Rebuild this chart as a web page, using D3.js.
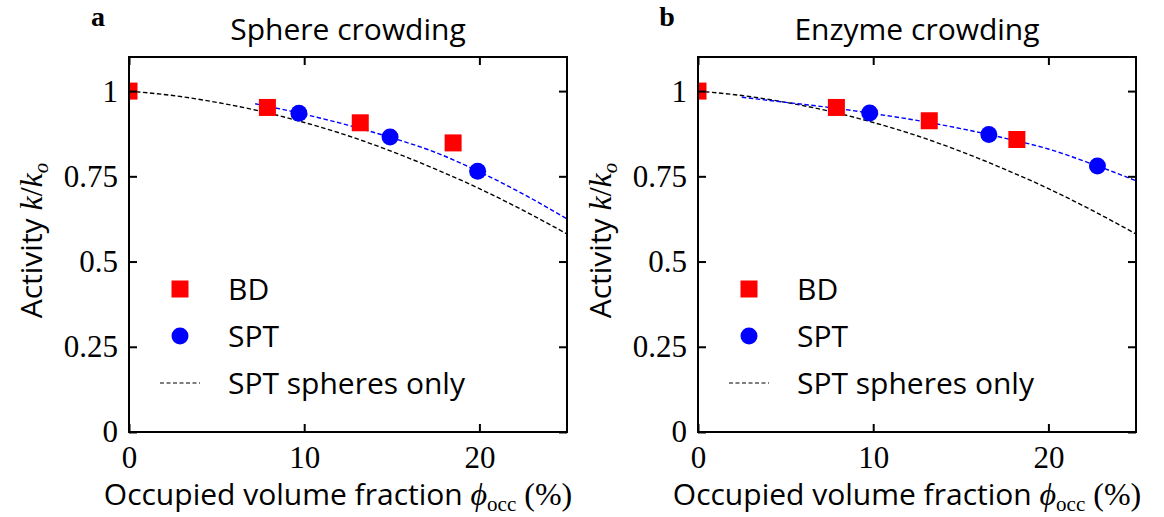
<!DOCTYPE html>
<html>
<head>
<meta charset="utf-8">
<script src="https://cdn.jsdelivr.net/npm/d3@7"></script>
<style>
  body { margin: 0; background: #fff; }
  .tick text { font-family: "Liberation Serif", serif; font-size: 31px; fill: #000; }
  .lbl { font-family: "Open Sans", sans-serif; fill: #000; }
  .math { font-family: "Liberation Serif", serif; font-style: italic; }
</style>
</head>
<body>
<div id="chart"></div>
<script>
// axis ticks
var xTicks = [0, 10, 20];
var yTicks = [0, 0.25, 0.5, 0.75, 1];
var yTickLabels = ["0", "0.25", "0.5", "0.75", "1"];

// panel a: sphere crowding
var bdA_x = [0, 7.9, 13.2, 18.5];
var bdA_y = [1.0, 0.952, 0.907, 0.848];
var sptA_x = [9.7, 14.9, 19.9];
var sptA_y = [0.935, 0.865, 0.765];
var fitA_x = [7.2, 10, 12.5, 15, 17.5, 20, 22.5, 25];
var fitA_y = [0.963, 0.932, 0.900, 0.863, 0.820, 0.763, 0.698, 0.625];

// panel b: enzyme crowding
var bdB_x = [0, 7.9, 13.2, 18.2];
var bdB_y = [1.0, 0.952, 0.913, 0.858];
var sptB_x = [9.8, 16.6, 22.8];
var sptB_y = [0.936, 0.873, 0.780];
var fitB_x = [2.5, 5, 7.5, 10, 12.5, 15, 17.5, 20, 22.5, 25];
var fitB_y = [0.982, 0.967, 0.952, 0.934, 0.914, 0.890, 0.862, 0.830, 0.786, 0.737];

// SPT spheres only (same curve in both panels)
var sph_x = [0, 2.5, 5, 7.5, 10, 12.5, 15, 17.5, 20, 22.5, 25];
var sph_y = [1.0, 0.987, 0.967, 0.941, 0.908, 0.869, 0.823, 0.771, 0.714, 0.650, 0.581];

var titles = ["Sphere crowding", "Enzyme crowding"];
var letters = ["a", "b"];
var legendNames = ["BD", "SPT", "SPT spheres only"];

var W = 1164, H = 517;
var svg = d3.select("#chart").append("svg").attr("width", W).attr("height", H);

function zip(xs, ys) { return xs.map(function(x, i) { return [x, ys[i]]; }); }

function drawPanel(idx, left, bd, spt, fit) {
    var width = 438, height = 375, top = 57;
    var g = svg.append("g").attr("transform", "translate(" + left + "," + top + ")");

    var x = d3.scaleLinear().domain([0, 25]).range([0, width]);
    var y = d3.scaleLinear().domain([0, 1.1]).range([height, 0]);

    var clipId = "clip" + idx;
    g.append("clipPath").attr("id", clipId)
        .append("rect").attr("width", width).attr("height", height);

    var plot = g.append("g").attr("clip-path", "url(#" + clipId + ")");

    var line = d3.line()
        .x(function(d) { return x(d[0]); })
        .y(function(d) { return y(d[1]); })
        .curve(d3.curveMonotoneX);

    plot.append("path").datum(zip(sph_x, sph_y))
        .attr("d", line).attr("fill", "none")
        .attr("stroke", "#000").attr("stroke-width", 1.4).attr("stroke-dasharray", "4.5,2.5");

    plot.append("path").datum(fit)
        .attr("d", line).attr("fill", "none")
        .attr("stroke", "#0000ff").attr("stroke-width", 1.4).attr("stroke-dasharray", "4.5,2.5");

    var s = 17;
    plot.selectAll("rect.bd").data(bd).enter().append("rect")
        .attr("class", "bd")
        .attr("x", function(d) { return x(d[0]) - s / 2; })
        .attr("y", function(d) { return y(d[1]) - s / 2; })
        .attr("width", s).attr("height", s)
        .attr("fill", "#ff0000");

    plot.selectAll("circle.spt").data(spt).enter().append("circle")
        .attr("class", "spt")
        .attr("cx", function(d) { return x(d[0]); })
        .attr("cy", function(d) { return y(d[1]); })
        .attr("r", 8.5)
        .attr("fill", "#0000ff");

    // axes with inward ticks on all four sides
    var tk = 8;
    g.append("g").attr("transform", "translate(0," + height + ")")
        .call(d3.axisBottom(x).tickValues(xTicks).tickSize(-tk).tickSizeOuter(0).tickPadding(14)
            .tickFormat(d3.format("d")));
    g.append("g")
        .call(d3.axisLeft(y).tickValues(yTicks).tickSize(-tk).tickSizeOuter(0).tickPadding(11)
            .tickFormat(function(d, i) { return yTickLabels[i]; }));
    g.append("g")
        .call(d3.axisTop(x).tickValues(xTicks).tickSize(-tk).tickSizeOuter(0).tickFormat(""));
    g.append("g").attr("transform", "translate(" + width + ",0)")
        .call(d3.axisRight(y).tickValues(yTicks).tickSize(-tk).tickSizeOuter(0).tickFormat(""));
    g.selectAll(".domain").remove();
    g.selectAll(".tick line").attr("stroke", "#000").attr("stroke-width", 2);

    g.append("rect").attr("width", width).attr("height", height)
        .attr("fill", "none").attr("stroke", "#000").attr("stroke-width", 2);

    // title and panel letter
    g.append("text").attr("class", "lbl")
        .attr("x", width / 2).attr("y", -17).attr("text-anchor", "middle")
        .style("font-size", "30px").text(titles[idx]);
    g.append("text")
        .attr("x", -31).attr("y", -31).attr("text-anchor", "middle")
        .style("font-family", "Liberation Serif, serif").style("font-weight", "bold")
        .style("font-size", "28px").text(letters[idx]);

    // x label
    var xl = g.append("text").attr("class", "lbl")
        .attr("x", width / 2 - 10).attr("y", height + 73).attr("text-anchor", "middle")
        .style("font-size", "30px");
    xl.append("tspan").text("Occupied volume fraction ");
    xl.append("tspan").attr("class", "math").style("font-size", "32px").text("\u03d5");
    xl.append("tspan").style("font-family", "Liberation Serif, serif").style("font-size", "21px")
        .attr("dy", 6).text("occ");
    xl.append("tspan").style("font-family", "Liberation Serif, serif").style("font-size", "32px")
        .attr("dy", -6).text(" (%)");

    // y label
    var yl = g.append("text").attr("class", "lbl")
        .attr("transform", "translate(-87," + (height / 2 - 4) + ") rotate(-90)")
        .attr("text-anchor", "middle").style("font-size", "30px");
    yl.append("tspan").text("Activity ");
    yl.append("tspan").attr("class", "math").style("font-size", "32px").text("k");
    yl.append("tspan").style("font-family", "Liberation Serif, serif").style("font-size", "32px").text("/");
    yl.append("tspan").attr("class", "math").style("font-size", "32px").text("k");
    yl.append("tspan").attr("class", "math").style("font-size", "21px").attr("dy", 6).text("o");

    // legend
    var lg = g.append("g").attr("transform", "translate(51,232)");
    lg.append("rect").attr("x", -s / 2).attr("y", -s / 2).attr("width", s).attr("height", s).attr("fill", "#ff0000");
    lg.append("circle").attr("cx", 0).attr("cy", 47).attr("r", 8.5).attr("fill", "#0000ff");
    lg.append("line").attr("x1", -20).attr("x2", 20).attr("y1", 94).attr("y2", 94)
        .attr("stroke", "#000").attr("stroke-width", 1.2).attr("stroke-dasharray", "4,2.5");
    legendNames.forEach(function(n, i) {
        lg.append("text").attr("class", "lbl").attr("x", 48).attr("y", i * 47 + 11)
            .style("font-size", "30px").text(n);
    });
}

drawPanel(0, 129, zip(bdA_x, bdA_y), zip(sptA_x, sptA_y), zip(fitA_x, fitA_y));
drawPanel(1, 698, zip(bdB_x, bdB_y), zip(sptB_x, sptB_y), zip(fitB_x, fitB_y));
</script>
</body>
</html>
